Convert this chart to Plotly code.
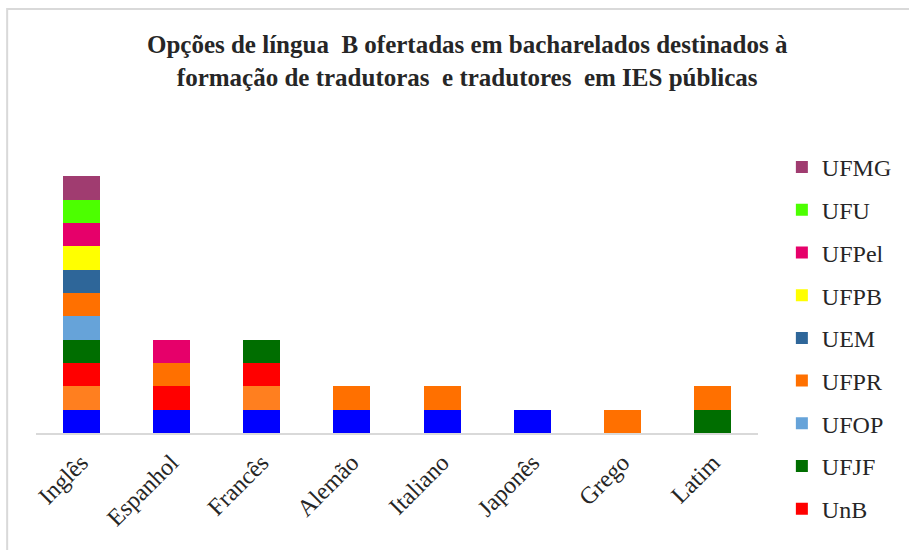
import plotly.graph_objects as go

categories = ["Inglês", "Espanhol", "Francês", "Alemão", "Italiano", "Japonês", "Grego", "Latim"]

# series in stacking order (bottom -> top)
series_names = ["USP", "UFRGS", "UnB", "UFJF", "UFOP", "UFPR", "UEM", "UFPB", "UFPel", "UFU", "UFMG"]
usp   = [1, 1, 1, 1, 1, 1, 0, 0]
ufrgs = [1, 0, 1, 0, 0, 0, 0, 0]
unb   = [1, 1, 1, 0, 0, 0, 0, 0]
ufjf  = [1, 0, 1, 0, 0, 0, 0, 1]
ufop  = [1, 0, 0, 0, 0, 0, 0, 0]
ufpr  = [1, 1, 0, 1, 1, 0, 1, 1]
uem   = [1, 0, 0, 0, 0, 0, 0, 0]
ufpb  = [1, 0, 0, 0, 0, 0, 0, 0]
ufpel = [1, 1, 0, 0, 0, 0, 0, 0]
ufu   = [1, 0, 0, 0, 0, 0, 0, 0]
ufmg  = [1, 0, 0, 0, 0, 0, 0, 0]
series_values = [usp, ufrgs, unb, ufjf, ufop, ufpr, uem, ufpb, ufpel, ufu, ufmg]
series_colors = ["#0000FF", "#FF7F1F", "#FF0000", "#006E00", "#66A3D9", "#FF7000",
                 "#2E6699", "#FFFF00", "#E6006A", "#4CFF00", "#A03C70"]
in_legend = [False, False, True, True, True, True, True, True, True, True, True]

SERIF = "Liberation Serif, Times New Roman, serif"

fig = go.Figure()
n = len(series_names)
for i, (name, vals, col, show) in enumerate(zip(series_names, series_values, series_colors, in_legend)):
    fig.add_trace(go.Bar(
        x=categories, y=vals, name=name, marker=dict(color=col, line=dict(width=0)),
        showlegend=show, legendgroup=name, legendrank=100 + (n - i),
    ))

W, H = 909, 550
L, R, T, B = 36, 147, 153, 117
pw, ph = W - L - R, H - T - B
ymax = 12

def px_to_paper_x(px):
    return (px - L) / pw

def px_to_paper_y(py):
    return (H - B - py) / ph

fig.update_layout(
    width=W, height=H,
    barmode="stack", bargap=0.59,
    paper_bgcolor="white", plot_bgcolor="white",
    margin=dict(l=L, r=R, t=T, b=B),
    font=dict(family=SERIF, color="#262626"),
    title=dict(
        text="Opções de língua  B ofertadas em bacharelados destinados à<br>formação de tradutoras  e tradutores  em IES públicas",
        font=dict(family=SERIF, size=25, color="#262626", weight="bold"),
        x=0.514, xref="container", xanchor="center",
        y=1 - 53 / H, yref="container", yanchor="top",
    ),
    legend=dict(
        font=dict(family=SERIF, size=24, color="#262626"),
        traceorder="grouped",
        tracegroupgap=8.5,
        maxheight=600,
        x=px_to_paper_x(786), xanchor="left",
        y=px_to_paper_y(145), yanchor="top",
        bgcolor="rgba(0,0,0,0)",
    ),
    xaxis=dict(
        showline=True, linecolor="#d9d9d9", linewidth=2,
        ticks="", tickangle=-45, tickfont=dict(family=SERIF, size=24, color="#262626"),
        ticklabelstandoff=4,
        showgrid=False,
    ),
    yaxis=dict(
        range=[0, ymax], showticklabels=False, showgrid=False, zeroline=False, showline=False,
    ),
    shapes=[dict(
        type="rect", xref="paper", yref="paper",
        x0=px_to_paper_x(7), x1=px_to_paper_x(930),
        y0=px_to_paper_y(580), y1=px_to_paper_y(9),
        line=dict(color="#d9d9d9", width=2), fillcolor="rgba(0,0,0,0)", layer="below",
    )],
)

fig.write_html("out.html", config={"displayModeBar": False},
               post_script="document.body.style.margin='0';")
